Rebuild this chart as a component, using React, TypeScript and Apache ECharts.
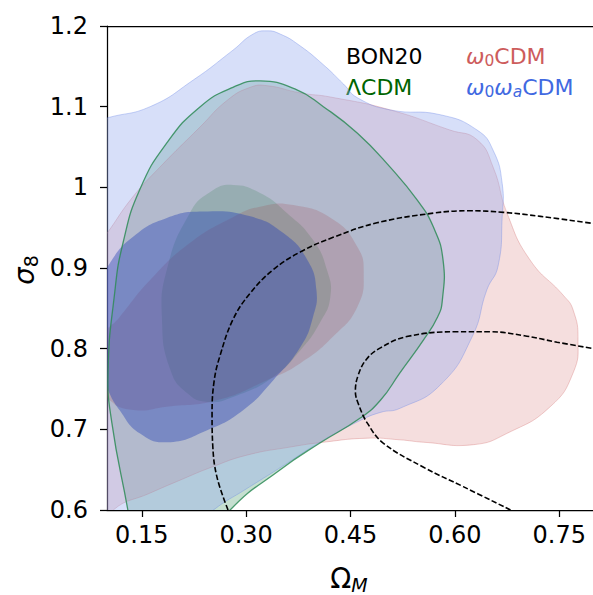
import React, { useEffect, useRef } from "react";
import * as echarts from "echarts";

const FONT = "DejaVu Sans";

const X_MIN = 0.1;
const X_MAX = 0.8;
const Y_MIN = 0.6;
const Y_MAX = 1.2;
const xTicks = [0.15, 0.3, 0.45, 0.6, 0.75];
const yTicks = [0.6, 0.7, 0.8, 0.9, 1.0, 1.1, 1.2];

// ω0ωaCDM (blue) 2σ and 1σ contours
const blueOuter = [
  [0.08, 0.58], [0.08, 1.08], [0.1, 1.086], [0.162, 1.1], [0.224, 1.133], [0.281, 1.17],
  [0.31, 1.19], [0.33, 1.194], [0.349, 1.19], [0.375, 1.177], [0.411, 1.152], [0.44, 1.128],
  [0.46, 1.111], [0.507, 1.096], [0.579, 1.09], [0.632, 1.071], [0.655, 1.046], [0.668, 1.005],
  [0.668, 0.963], [0.662, 0.902], [0.646, 0.873], [0.625, 0.815], [0.579, 0.755], [0.521, 0.726],
  [0.493, 0.721], [0.464, 0.711], [0.406, 0.684], [0.35, 0.653], [0.3, 0.626], [0.253, 0.6],
  [0.23, 0.58],
];
const blueInner = [
  [0.1, 0.752], [0.085, 0.79], [0.085, 0.87], [0.104, 0.906], [0.138, 0.939], [0.186, 0.962],
  [0.238, 0.97], [0.306, 0.964], [0.354, 0.943], [0.388, 0.91], [0.401, 0.873], [0.396, 0.839],
  [0.378, 0.802], [0.339, 0.761], [0.296, 0.724], [0.244, 0.699], [0.186, 0.684], [0.147, 0.695],
  [0.118, 0.724],
];

// ω0CDM (red) 2σ and 1σ contours
const redOuter = [
  [0.08, 0.58], [0.105, 0.58], [0.109, 0.6], [0.162, 0.621], [0.205, 0.637], [0.25, 0.653],
  [0.301, 0.668], [0.363, 0.678], [0.411, 0.684], [0.474, 0.689], [0.521, 0.687], [0.555, 0.684],
  [0.627, 0.681], [0.675, 0.695], [0.737, 0.728], [0.77, 0.77], [0.777, 0.811], [0.77, 0.848],
  [0.756, 0.866], [0.708, 0.91], [0.675, 0.968], [0.655, 1.025], [0.632, 1.059], [0.593, 1.071],
  [0.507, 1.096], [0.421, 1.112], [0.378, 1.117], [0.33, 1.126], [0.306, 1.124], [0.273, 1.108],
  [0.234, 1.075], [0.176, 1.025], [0.137, 0.988], [0.1, 0.943], [0.08, 0.92],
];
const redInner = [
  [0.09, 0.76], [0.104, 0.736], [0.138, 0.724], [0.186, 0.728], [0.258, 0.736], [0.33, 0.761],
  [0.378, 0.782], [0.425, 0.815], [0.46, 0.852], [0.469, 0.894], [0.46, 0.926], [0.425, 0.96],
  [0.368, 0.978], [0.32, 0.976], [0.281, 0.963], [0.219, 0.931], [0.162, 0.885], [0.118, 0.839],
  [0.09, 0.81],
];

// ΛCDM (green) 2σ and 1σ contours
const greenOuter = [
  [0.13, 0.6], [0.136, 0.57], [0.2, 0.55], [0.26, 0.57], [0.277, 0.6], [0.349, 0.65],
  [0.406, 0.683], [0.464, 0.714], [0.493, 0.736], [0.521, 0.77], [0.555, 0.811], [0.575, 0.839],
  [0.582, 0.86], [0.583, 0.91], [0.569, 0.951], [0.546, 0.984], [0.507, 1.025], [0.46, 1.067],
  [0.411, 1.1], [0.37, 1.122], [0.32, 1.132], [0.281, 1.124], [0.234, 1.1], [0.186, 1.055],
  [0.147, 0.997], [0.123, 0.931], [0.111, 0.869], [0.1015, 0.77], [0.107, 0.708],
];
const greenInner = [
  [0.281, 1.003], [0.32, 0.993], [0.359, 0.968], [0.396, 0.935], [0.416, 0.898], [0.421, 0.864],
  [0.406, 0.832], [0.378, 0.798], [0.339, 0.765], [0.281, 0.74], [0.244, 0.734], [0.215, 0.745],
  [0.191, 0.774], [0.179, 0.836], [0.186, 0.898], [0.219, 0.968], [0.25, 0.995],
];

// BON20 dashed contours
const bonOuter = [
  [0.274, 0.6], [0.258, 0.641], [0.252, 0.68], [0.251, 0.72], [0.254, 0.76], [0.262, 0.79],
  [0.281, 0.836], [0.306, 0.869], [0.339, 0.898], [0.378, 0.92], [0.425, 0.938], [0.488, 0.956],
  [0.569, 0.968], [0.62, 0.971], [0.67, 0.969], [0.723, 0.964], [0.8, 0.955],
];
const bonInner = [
  [0.68, 0.6], [0.612, 0.629], [0.555, 0.653], [0.497, 0.683], [0.474, 0.708], [0.462, 0.73],
  [0.457, 0.747], [0.461, 0.767], [0.473, 0.787], [0.493, 0.801], [0.531, 0.815], [0.603, 0.821],
  [0.65, 0.821], [0.7, 0.816], [0.747, 0.808], [0.8, 0.8],
];

function polygonSeries(name: string, pts: number[][], fill: string, stroke: string, lineWidth: number) {
  return {
    type: "custom",
    name,
    data: pts,
    clip: true,
    silent: true,
    renderItem: (params: any, api: any) => {
      if (params.dataIndex !== 0) return null;
      const points = pts.map((p) => api.coord(p));
      return {
        type: "polygon",
        shape: { points, smooth: 0.5 },
        style: { fill, stroke, lineWidth },
      };
    },
  };
}

function dashSeries(name: string, pts: number[][]) {
  return {
    type: "line",
    name,
    data: pts,
    smooth: 0.4,
    symbol: "none",
    showSymbol: false,
    clip: true,
    silent: true,
    z: 5,
    lineStyle: { color: "#000", width: 1.6, type: [5.5, 2.4] },
  };
}

export default function App() {
  const ref = useRef<HTMLDivElement>(null);
  useEffect(() => {
    if (!ref.current) return;
    const chart = echarts.init(ref.current, null, { renderer: "svg" });
    const axisLine = { show: true, onZero: false, lineStyle: { color: "#000", width: 1.25 } };
    const labelStyle = { color: "#000", fontSize: 24, fontFamily: FONT };
    const option: any = {
      animation: false,
      grid: { left: 107, right: -1, top: 26, bottom: 85, containLabel: false, outerBoundsMode: "none" },
      xAxis: [
        {
          type: "value",
          min: X_MIN,
          max: X_MAX,
          position: "bottom",
          axisLine,
          axisTick: { show: true, length: 7, lineStyle: { color: "#000", width: 1.25 }, customValues: xTicks },
          axisLabel: { ...labelStyle, margin: 13, customValues: xTicks, formatter: (v: number) => v.toFixed(2) },
          splitLine: { show: false },
        },
        {
          type: "value",
          min: X_MIN,
          max: X_MAX,
          position: "top",
          axisLine,
          axisTick: { show: false },
          axisLabel: { show: false },
          splitLine: { show: false },
        },
      ],
      yAxis: {
        type: "value",
        min: Y_MIN,
        max: Y_MAX,
        axisLine,
        axisTick: { show: true, length: 7, lineStyle: { color: "#000", width: 1.25 }, customValues: yTicks },
        axisLabel: {
          ...labelStyle,
          margin: 19,
          customValues: yTicks,
          formatter: (v: number) => String(parseFloat(v.toFixed(1))),
        },
        splitLine: { show: false },
      },
      series: [
        polygonSeries("ΛCDM 2σ", greenOuter, "rgba(46,139,87,0.28)", "none", 0),
        polygonSeries("ω0CDM 2σ", redOuter, "rgba(205,92,92,0.2)", "rgba(205,92,92,0.3)", 1),
        polygonSeries("ω0ωaCDM 2σ", blueOuter, "rgba(150,170,240,0.38)", "rgba(100,130,230,0.35)", 1),
        polygonSeries("ΛCDM 1σ", greenInner, "rgba(75,135,100,0.26)", "none", 0),
        polygonSeries("ω0CDM 1σ", redInner, "rgba(160,65,70,0.2)", "none", 0),
        polygonSeries("ω0ωaCDM 1σ", blueInner, "rgba(40,70,180,0.42)", "none", 0),
        polygonSeries("ΛCDM edge", greenOuter, "none", "rgba(46,139,87,0.85)", 1.3),
        dashSeries("BON20 a", bonOuter),
        dashSeries("BON20 b", bonInner),
      ],
      graphic: [
        {
          type: "text", x: 346, y: 56, silent: true,
          style: { text: "BON20", fill: "#000", fontSize: 22, fontFamily: FONT, verticalAlign: "middle" },
        },
        {
          type: "text", x: 346, y: 87, silent: true,
          style: { text: "ΛCDM", fill: "#006400", fontSize: 22, fontFamily: FONT, verticalAlign: "middle" },
        },
        {
          type: "text", x: 466, y: 56, silent: true,
          style: {
            text: "{w|ω}{s|0}{n|CDM}", fill: "#cd5c5c", verticalAlign: "middle",
            rich: {
              w: { fontSize: 22, fontFamily: FONT, fontStyle: "italic", fill: "#cd5c5c", lineHeight: 26 },
              s: { fontSize: 15.5, fontFamily: FONT, fill: "#cd5c5c", lineHeight: 15.5, verticalAlign: "bottom" },
              n: { fontSize: 22, fontFamily: FONT, fill: "#cd5c5c", lineHeight: 26 },
            },
          },
        },
        {
          type: "text", x: 466, y: 87, silent: true,
          style: {
            text: "{w|ω}{s|0}{w|ω}{si|a}{n|CDM}", fill: "#4169e1", verticalAlign: "middle",
            rich: {
              w: { fontSize: 22, fontFamily: FONT, fontStyle: "italic", fill: "#4169e1", lineHeight: 26 },
              s: { fontSize: 15.5, fontFamily: FONT, fill: "#4169e1", lineHeight: 15.5, verticalAlign: "bottom" },
              si: { fontSize: 15.5, fontFamily: FONT, fontStyle: "italic", fill: "#4169e1", lineHeight: 15.5, verticalAlign: "bottom" },
              n: { fontSize: 22, fontFamily: FONT, fill: "#4169e1", lineHeight: 26 },
            },
          },
        },
        {
          type: "text", x: 24, y: 270, rotation: Math.PI / 2, silent: true,
          style: {
            text: "{w|σ}{s|8}", fill: "#000", align: "center", verticalAlign: "middle",
            rich: {
              w: { fontSize: 27.5, fontFamily: FONT, fontStyle: "italic", fill: "#000", lineHeight: 32 },
              s: { fontSize: 19, fontFamily: FONT, fill: "#000", lineHeight: 19, verticalAlign: "bottom" },
            },
          },
        },
        {
          type: "text", x: 349, y: 578, silent: true,
          style: {
            text: "{n|Ω}{si|M}", fill: "#000", align: "center", verticalAlign: "middle",
            rich: {
              n: { fontSize: 27.5, fontFamily: FONT, fill: "#000", lineHeight: 32 },
              si: { fontSize: 19, fontFamily: FONT, fontStyle: "italic", fill: "#000", lineHeight: 19, verticalAlign: "bottom" },
            },
          },
        },
      ],
    };
    chart.setOption(option);
    return () => chart.dispose();
  }, []);
  return <div ref={ref} style={{ position: "absolute", left: 0, top: 0, width: 593, height: 595 }} />;
}
